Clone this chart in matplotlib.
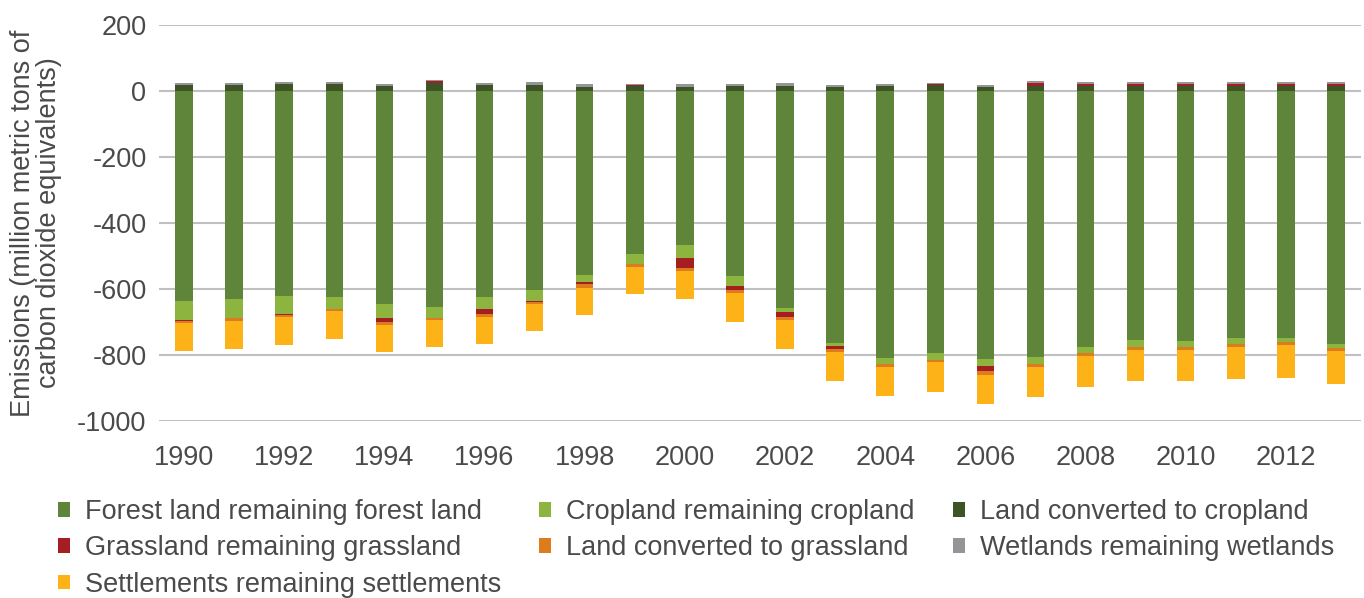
import matplotlib.pyplot as plt
import numpy as np
from matplotlib.patches import Patch

plt.rcParams['font.family'] = ['Liberation Sans', 'DejaVu Sans']
plt.rcParams['axes.unicode_minus'] = False

years = list(range(1990, 2014))

forest = [-635, -629, -620, -624, -644, -656, -623, -602, -559, -495, -468, -562,
          -657, -763, -808, -793, -811, -805, -775, -754, -757, -749, -748, -766]
cropland = [-59, -59, -57, -36, -43, -31, -39, -33, -21, -30, -37, -30,
            -14, -9, -20, -22, -22, -23, -20, -22, -20, -19, -14, -13]
conv_cropland = [18, 18, 21, 21, 15, 24, 18, 19, 13, 14, 13, 15,
                 16, 12, 14, 18, 12, 15, 15, 15, 15, 15, 15, 15]
grassland = [-2, -1, -2, -2, -12, 6, -13, -3, -6, 3, -30, -10,
             -13, -9, 0, 2, -15, 8, 7, 7, 7, 7, 7, 7]
conv_grassland = [-6, -7, -5, -5, -9, -7, -10, -7, -10, -7, -10, -10,
                  -9, -9, -8, -7, -12, -8, -8, -8, -7, -7, -9, -8]
wetlands = [6, 6, 5, 5, 7, 4, 5, 7, 7, 4, 7, 6,
            7, 6, 6, 4, 5, 6, 5, 5, 5, 5, 5, 5]
settlements = [-86, -85, -87, -85, -83, -81, -81, -82, -82, -83, -85, -87,
               -89, -88, -87, -90, -89, -90, -93, -94, -96, -98, -98, -100]

labels = ['Forest land remaining forest land', 'Cropland remaining cropland',
          'Land converted to cropland', 'Grassland remaining grassland',
          'Land converted to grassland', 'Wetlands remaining wetlands',
          'Settlements remaining settlements']
colors = ['#5f853a', '#8cb43f', '#3d5424', '#a41e22', '#dd7c1c', '#949599', '#fdb217']
series = [forest, cropland, conv_cropland, grassland, conv_grassland, wetlands, settlements]

text_color = '#4a4a4a'
fs = 19.5

fig = plt.figure(figsize=(13.64, 5.98), dpi=100)
ax = fig.add_axes([159 / 1364, 1 - 421 / 598, 1202 / 1364, 396 / 598])

x = np.arange(len(years))
pos = np.zeros(len(years))
neg = np.zeros(len(years))
for vals, col in zip(series, colors):
    v = np.array(vals, dtype=float)
    bottom = np.where(v >= 0, pos, neg)
    ax.bar(x, v, 0.35, bottom=bottom, color=col, edgecolor='none', zorder=3)
    pos += np.where(v >= 0, v, 0)
    neg += np.where(v < 0, v, 0)

ax.set_xlim(-0.5, len(years) - 0.5)
ax.set_ylim(-1000, 200)
ax.set_yticks(range(-1000, 201, 200))
ax.set_xticks(x[::2])
ax.set_xticklabels([str(y) for y in years[::2]])
ax.grid(axis='y', color='#c0c0c0', linewidth=1.5, zorder=0)
for s in ax.spines.values():
    s.set_visible(False)
ax.tick_params(length=0, labelsize=fs, colors=text_color)
ax.tick_params(axis='x', pad=17)
ax.tick_params(axis='y', pad=9)
ax.set_ylabel('Emissions (million metric tons of\ncarbon dioxide equivalents)',
              fontsize=fs, color=text_color, labelpad=11, linespacing=1.0)

# matplotlib fills legend columns first, so reorder to read across rows
order = [0, 3, 6, 1, 4, 2, 5]
handles = [Patch(facecolor=colors[i], edgecolor='none') for i in order]
fig.legend(handles, [labels[i] for i in order], loc='upper left',
           bbox_to_anchor=(58 / 1364, 1 - 499 / 598),
           ncol=3, frameon=False, fontsize=fs, labelcolor=text_color,
           handlelength=0.45, handleheight=0.45, handletextpad=0.55,
           columnspacing=1.4, labelspacing=0.38, borderpad=0, borderaxespad=0)

fig.savefig('out.png', dpi=100)
